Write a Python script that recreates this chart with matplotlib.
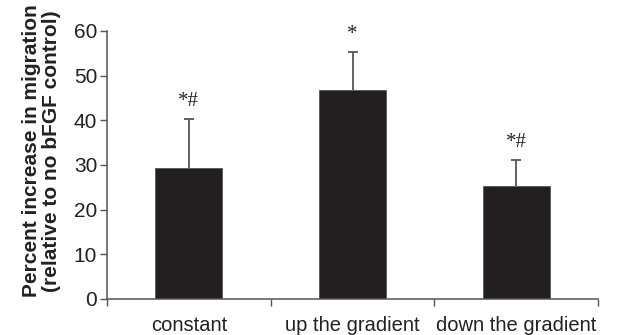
import matplotlib
matplotlib.use("Agg")
import matplotlib.pyplot as plt

categories = ["constant", "up the gradient", "down the gradient"]
means = [29.4, 46.8, 25.3]
errors_up = [10.8, 8.4, 5.8]
markers = ["*#", "*", "*#"]
yticks = [0, 10, 20, 30, 40, 50, 60]

plt.rcParams['font.family'] = ['Liberation Sans', 'DejaVu Sans']

fig = plt.figure(figsize=(6.29, 3.35), dpi=100)
ax = fig.add_axes([0.170, 0.1075, 0.781, 0.80])

x = list(range(len(categories)))
bar_color = '#231f20'
line_color = '#555555'
ax.bar(x, means, width=0.41, color=bar_color, edgecolor=line_color, linewidth=0.6, zorder=2)
eb = ax.errorbar(x, means, yerr=[[0]*len(means), errors_up], fmt='none', ecolor=line_color,
                 elinewidth=1.3, capsize=3.8, capthick=1.3, zorder=1)
eb[1][0].set_visible(False)

for xi, m, e, t in zip(x, means, errors_up, markers):
    ax.annotate(t, xy=(xi, m + e), xytext=(0, 6), textcoords='offset points',
                ha='center', va='bottom', fontsize=15, family='Liberation Serif', color='#222222')

ax.set_xlim(-0.5, len(categories) - 0.5)
ax.set_ylim(0, 60)
ax.set_yticks(yticks)
ax.set_yticklabels([str(v) for v in yticks], fontsize=15, color='#222222')

boundaries = [i - 0.5 for i in range(len(categories) + 1)]
ax.set_xticks(boundaries)
ax.set_xticklabels([''] * len(boundaries))
ax.set_xticks(x, minor=True)
ax.set_xticklabels(categories, minor=True, fontsize=14.5, color='#222222')
ax.tick_params(axis='x', which='minor', length=0, pad=12)
ax.tick_params(axis='x', which='major', length=5, width=1.0, color=line_color, direction='out')
ax.tick_params(axis='y', length=5, width=1.0, color=line_color, direction='out', pad=2)

for s in ['top', 'right']:
    ax.spines[s].set_visible(False)
for s in ['left', 'bottom']:
    ax.spines[s].set_color(line_color)
    ax.spines[s].set_linewidth(1.1)

ax.set_ylabel("Percent increase in migration\n(relative to no bFGF control)", fontsize=15,
              fontweight='bold', color='#222222', linespacing=1.1)
ax.yaxis.set_label_coords(-0.093, 0.553)

fig.savefig("out.png", dpi=100)
